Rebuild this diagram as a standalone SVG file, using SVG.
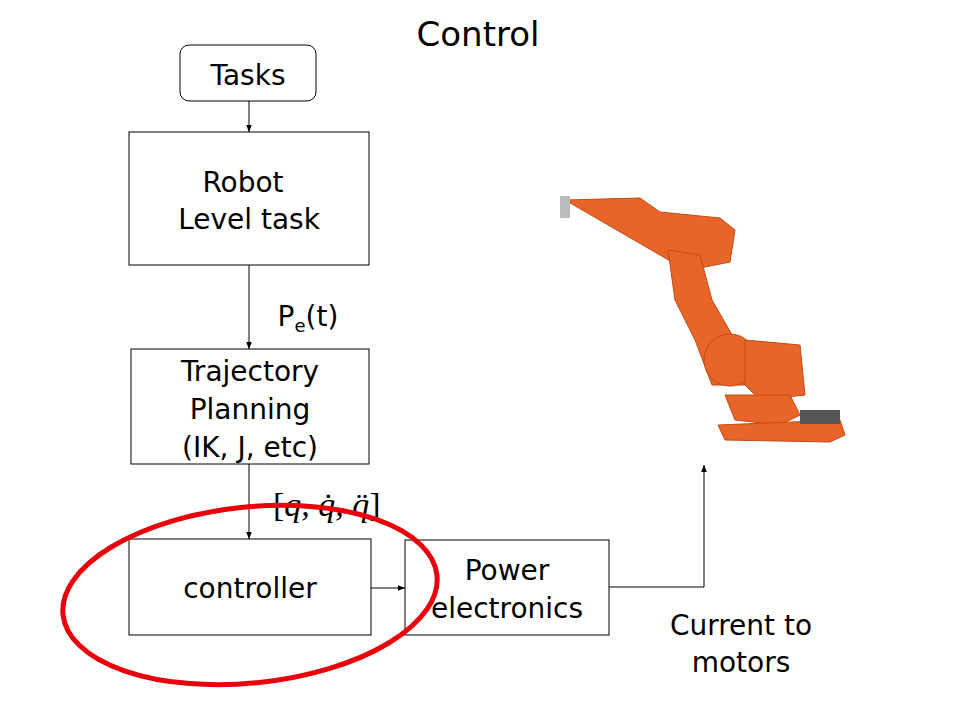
<svg xmlns="http://www.w3.org/2000/svg" width="960" height="720" viewBox="0 0 960 720">
<style>
.b{fill:#fff;stroke:#000;stroke-width:1}
.t{font-family:"DejaVu Sans",sans-serif;font-size:28px;fill:#000;text-anchor:middle}
.c{stroke:#000;stroke-width:1;fill:none;marker-end:url(#a)}
.o{fill:#e8652a;stroke:#c44a15;stroke-width:1}
</style>
<defs><marker id="a" viewBox="0 0 10 10" refX="10" refY="5" markerWidth="7" markerHeight="7" orient="auto"><path d="M0,1L10,5L0,9z" fill="#000"/></marker></defs>
<rect width="960" height="720" fill="#fff"/>
<text class="t" x="478" y="46" font-size="34" style="font-size:34px">Control</text>
<g id="connectors">
<path class="c" d="M249,101V132"/>
<path class="c" d="M249,265V349"/>
<path class="c" d="M249,464V539"/>
<path class="c" d="M371,588H405"/>
<path class="c" d="M609,587H704V465"/>
</g>
<g id="tasks"><rect class="b" x="180" y="45" width="136" height="56" rx="9"/><text class="t" x="248" y="85">Tasks</text></g>
<g id="robot"><rect class="b" x="129" y="132" width="240" height="133"/><text class="t" x="243" y="192">Robot</text><text class="t" x="249" y="229">Level task</text></g>
<g id="traj"><rect class="b" x="131" y="349" width="238" height="115"/><text class="t" x="250" y="381">Trajectory</text><text class="t" x="250" y="419">Planning</text><text class="t" x="250" y="457">(IK, J, etc)</text></g>
<g id="controller"><rect class="b" x="129" y="539" width="242" height="96"/><text class="t" x="250" y="598">controller</text></g>
<g id="power"><rect class="b" x="405" y="540" width="204" height="95"/><text class="t" x="507" y="580">Power</text><text class="t" x="507" y="618">electronics</text></g>
<text class="t" x="308" y="326">P<tspan font-size="18" dy="6" style="font-size:18px">e</tspan><tspan dy="-6">(t)</tspan></text>
<text x="273" y="516" font-family="Liberation Serif,serif" font-size="34" fill="#000">[<tspan font-style="italic">q, q̇, q̈</tspan>]</text>
<text class="t" x="741" y="635">Current to</text>
<text class="t" x="741" y="672">motors</text>
<ellipse cx="250" cy="595" rx="188" ry="88" transform="rotate(-6 250 595)" fill="none" stroke="#e8000b" stroke-width="5"/>
<g id="robotarm">
<path class="o" d="M565,200L640,198L660,212L720,218L735,230L730,262L700,268L690,262L672,262Z"/>
<path class="o" d="M668,250L700,255L712,300L735,340L745,385L712,385L695,340L675,300Z"/>
<circle class="o" cx="730" cy="360" r="26"/>
<path class="o" d="M745,340L800,345L805,395L760,400L745,385Z"/>
<path class="o" d="M725,395L790,395L800,415L780,425L735,420Z"/>
<path class="o" d="M718,425L840,420L845,435L830,442L725,440Z"/>
<rect x="800" y="410" width="40" height="14" fill="#555"/>
<rect x="560" y="196" width="10" height="22" fill="#bbb"/>
</g>
</svg>
